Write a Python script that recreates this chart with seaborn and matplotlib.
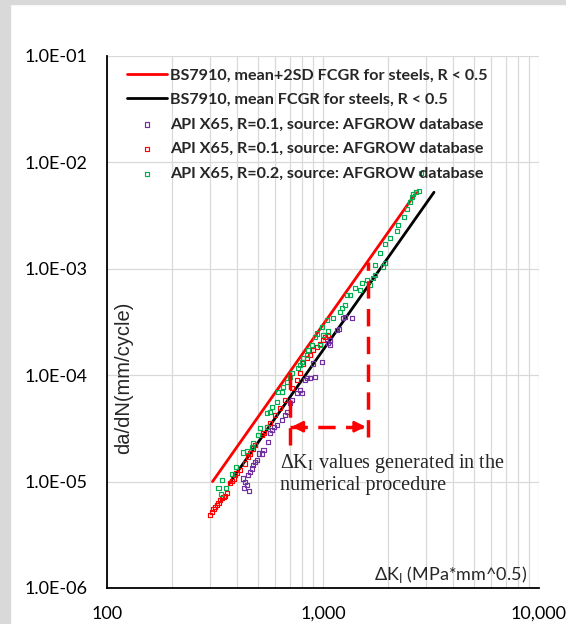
import matplotlib
matplotlib.use("Agg")
import matplotlib.pyplot as plt
import seaborn as sns
from matplotlib.ticker import FuncFormatter, LogLocator, NullFormatter
from matplotlib.patches import Rectangle

# BS7910 design curves (end points of each straight line)
k_mean2sd = [308, 2696]
da_mean2sd = [1.0e-5, 5.19e-3]
k_mean = [368, 3265]
da_mean = [9.6e-6, 5.24e-3]

# API X65, R=0.1 (purple)
k_purple = [428, 435, 443, 456, 431, 451, 459, 468, 476, 484, 493, 507, 520, 530,
            558, 568, 579, 593, 610, 644, 667, 679, 704, 716, 755, 783, 797, 826,
            840, 871, 918, 902, 986, 1058, 1078, 1078, 1157, 1191, 1243, 1265, 1358]
da_purple = [1.07e-5, 9.99e-6, 9.29e-6, 8.22e-6, 8.65e-6, 1.15e-5, 1.24e-5, 1.33e-5,
             1.43e-5, 1.54e-5, 1.60e-5, 1.84e-5, 1.84e-5, 1.98e-5, 2.37e-5, 2.84e-5,
             3.05e-5, 3.28e-5, 3.40e-5, 3.79e-5, 4.23e-5, 4.54e-5, 5.44e-5, 5.85e-5,
             6.76e-5, 7.26e-5, 6.76e-5, 9.02e-5, 9.35e-5, 9.35e-5, 9.69e-5, 1.29e-4,
             1.34e-4, 1.99e-4, 2.14e-4, 1.92e-4, 2.66e-4, 2.70e-4, 3.42e-4, 3.55e-4,
             3.42e-4]

# API X65, R=0.1 (red)
k_red = [300, 305, 311, 316, 322, 328, 334, 340, 346, 352, 358, 371, 378, 385, 391,
         398, 413, 435, 451, 459, 476, 484, 520, 530, 549, 568, 600, 632, 667, 716,
         755, 783, 811, 840, 871, 902, 935, 969, 997, 1022, 1058]
da_red = [4.85e-6, 5.22e-6, 5.49e-6, 5.73e-6, 6.03e-6, 6.25e-6, 6.72e-6, 6.96e-6,
          7.12e-6, 7.32e-6, 7.76e-6, 9.63e-6, 1.01e-5, 1.07e-5, 1.15e-5, 1.20e-5,
          1.29e-5, 1.48e-5, 1.72e-5, 1.84e-5, 2.05e-5, 2.21e-5, 2.74e-5, 2.84e-5,
          3.28e-5, 3.53e-5, 4.23e-5, 4.88e-5, 5.85e-5, 7.53e-5, 9.02e-5, 1.04e-4,
          1.29e-4, 1.44e-4, 1.55e-4, 1.72e-4, 1.85e-4, 1.95e-4, 2.14e-4, 2.27e-4,
          2.39e-4]

# API X65, R=0.2 (green)
k_green = [328, 340, 336, 356, 378, 396, 428, 443, 468, 476, 502, 511, 549, 549, 568,
           579, 610, 621, 644, 655, 679, 704, 716, 769, 783, 797, 811, 840, 855, 887,
           918, 935, 986, 969, 1004, 1040, 1058, 1116, 1199, 1221, 1265, 1287, 1334,
           1407, 1483, 1510, 1593, 1651, 1711, 1741, 1741, 1836, 1903, 1937, 1937,
           2043, 2193, 2217, 2380, 2440, 2528, 2574, 2620, 2696, 2793, 2833]
da_green = [8.65e-6, 1.035e-5, 7.65e-6, 8.65e-6, 1.18e-5, 1.38e-5, 1.88e-5, 1.95e-5,
            2.13e-5, 2.29e-5, 2.74e-5, 3.17e-5, 3.28e-5, 4.38e-5, 4.54e-5, 5.06e-5,
            5.64e-5, 7.00e-5, 7.00e-5, 7.80e-5, 8.70e-5, 9.69e-5, 1.04e-4, 1.16e-4,
            1.25e-4, 1.34e-4, 1.44e-4, 1.55e-4, 1.72e-4, 1.92e-4, 2.30e-4, 2.47e-4,
            2.86e-4, 1.92e-4, 2.39e-4, 3.30e-4, 2.57e-4, 3.42e-4, 3.96e-4, 4.25e-4,
            4.57e-4, 5.67e-4, 5.67e-4, 6.55e-4, 6.32e-4, 7.30e-4, 7.85e-4, 7.04e-4,
            8.14e-4, 8.74e-4, 1.09e-3, 1.40e-3, 1.05e-3, 1.13e-3, 1.71e-3, 1.96e-3,
            2.28e-3, 2.56e-3, 3.09e-3, 3.62e-3, 4.28e-3, 4.69e-3, 5.01e-3, 5.31e-3,
            5.43e-3, 7.89e-3]

# range of dK used in the numerical procedure (annotation)
dk_range = [703, 1608]
dk_tops = [1.30e-4, 1.17e-3]
dk_bottoms = [2.2e-5, 2.64e-5]
arrow_level = 3.28e-5

labels = ["BS7910, mean+2SD FCGR for steels, R < 0.5",
          "BS7910, mean FCGR for steels, R < 0.5",
          "API X65, R=0.1, source: AFGROW database",
          "API X65, R=0.1, source: AFGROW database",
          "API X65, R=0.2, source: AFGROW database"]

sns.set_style("white")
plt.rcParams["font.family"] = ["Lato", "DejaVu Sans"]
plt.rcParams["mathtext.fontset"] = "custom"
plt.rcParams["mathtext.rm"] = "Lato"

fig = plt.figure(figsize=(5.66, 6.24), dpi=100)
ax = fig.add_axes([107 / 566, 36 / 624, 432 / 566, 532 / 624])

red = "#FF0000"
sns.lineplot(x=k_mean2sd, y=da_mean2sd, color=red, lw=2.0, label=labels[0], ax=ax, zorder=3)
sns.lineplot(x=k_mean, y=da_mean, color="black", lw=2.0, label=labels[1], ax=ax, zorder=3)

mk = dict(marker="s", s=9, facecolor="none", linewidth=0.85, zorder=4)
for kk, dd, c, lab in [(k_purple, da_purple, "#7030A0", labels[2]),
                       (k_red, da_red, red, labels[3]),
                       (k_green, da_green, "#00B050", labels[4])]:
    sns.scatterplot(x=kk, y=dd, color=c, edgecolor=c, label=lab, ax=ax, **mk)

# annotation: dashed verticals and double arrow
dash = dict(color=red, lw=2.5, dashes=(5, 3), zorder=5)
for k, top, bot in zip(dk_range, dk_tops, dk_bottoms):
    ax.plot([k, k], [bot, top], **dash)
ax.plot(dk_range, [arrow_level, arrow_level], **dash)
head = dict(arrowstyle="-|>", color=red, lw=2.0, mutation_scale=16, shrinkA=0, shrinkB=0)
ax.annotate("", xy=(dk_range[0] * 1.02, arrow_level), xytext=(dk_range[0] * 1.12, arrow_level),
            arrowprops=head, zorder=6)
ax.annotate("", xy=(dk_range[1] * 0.98, arrow_level), xytext=(dk_range[1] * 0.88, arrow_level),
            arrowprops=head, zorder=6)

ax.text(632, 1.9e-5, "ΔK$_\\mathrm{I}$ values generated in the\nnumerical procedure",
        family="Liberation Serif", math_fontfamily="stix", fontsize=14.5,
        va="top", ha="left", linespacing=1.08, zorder=6)

ax.set_xscale("log")
ax.set_yscale("log")
ax.set_xlim(100, 10000)
ax.set_ylim(1e-6, 1e-1)

ax.xaxis.set_minor_locator(LogLocator(base=10, subs=range(2, 10)))
ax.xaxis.set_minor_formatter(NullFormatter())
ax.yaxis.set_minor_locator(plt.NullLocator())
ax.xaxis.set_major_formatter(FuncFormatter(lambda v, p: f"{v:,.0f}"))
ax.yaxis.set_major_formatter(FuncFormatter(lambda v, p: f"{v:.1E}"))

ax.grid(which="major", axis="both", color="#d9d9d9", lw=0.9, zorder=0)
ax.grid(which="minor", axis="x", color="#d9d9d9", lw=0.9, zorder=0)
ax.set_axisbelow(True)

for s in ["top", "right"]:
    ax.spines[s].set_visible(False)
for s in ["left", "bottom"]:
    ax.spines[s].set_color("black")
    ax.spines[s].set_linewidth(1.3)

ax.tick_params(axis="both", which="both", length=0, labelsize=13, colors="black")
ax.tick_params(axis="x", pad=13)
ax.tick_params(axis="y", pad=14)
ax.set_xlabel("")
ax.set_ylabel("")

ax.text(0.972, 0.015, "ΔK$_\\mathrm{I}$ (MPa*mm^0.5)", transform=ax.transAxes,
        ha="right", va="baseline", fontsize=13, math_fontfamily="custom")
ax.text(0.039, 0.395, "da/dN(mm/cycle)", transform=ax.transAxes, rotation=90,
        ha="center", va="center", fontsize=14.5, family="Liberation Sans")

ax.legend(loc="upper left", bbox_to_anchor=(0.046, 0.977), frameon=False,
          prop={"weight": "bold", "size": 11.6}, handlelength=2.5,
          handletextpad=0.2, labelspacing=0.64, borderpad=0, borderaxespad=0)

fig.patches.append(Rectangle((0, 0), 10 / 566, 1, transform=fig.transFigure,
                             color="#d9d9d9", zorder=-1))
fig.patches.append(Rectangle((0, 1 - 4 / 624), 1, 4 / 624, transform=fig.transFigure,
                             color="#d9d9d9", zorder=-1))

fig.savefig("out.png", dpi=100, facecolor="white")
